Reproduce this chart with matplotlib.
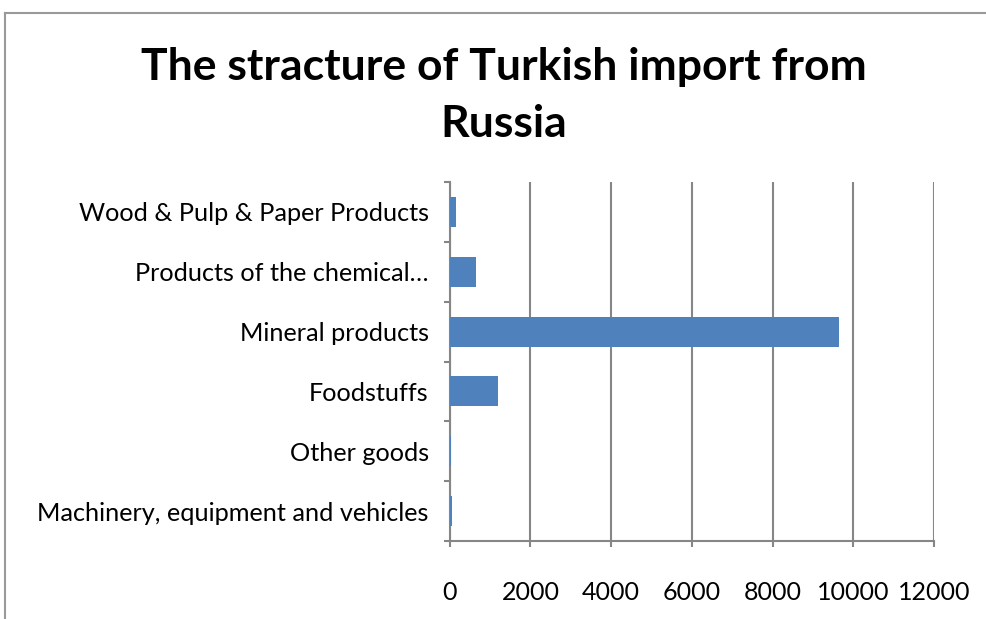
import matplotlib.pyplot as plt
from matplotlib.lines import Line2D
import numpy as np

# data, bottom to top as drawn
categories = ["Machinery, equipment and vehicles", "Other goods", "Foodstuffs",
              "Mineral products", "Products of the chemical\u2026",
              "Wood & Pulp & Paper Products"]
values = [55, 20, 1205, 9640, 645, 165]
xticks = [0, 2000, 4000, 6000, 8000, 10000, 12000]

plt.rcParams['font.family'] = ['Lato', 'DejaVu Sans']
grey = '#868686'

fig = plt.figure(figsize=(9.86, 6.19), dpi=100)
ax = fig.add_axes([449.7 / 986, 1 - 541 / 619, (934 - 449.7) / 986, (541 - 182) / 619])

y = np.arange(len(categories))
ax.barh(y, values, height=0.5, color='#4F81BD', zorder=3)

ax.set_xlim(0, 12000)
ax.set_ylim(-0.5, len(categories) - 0.5)
ax.set_xticks(xticks)
ax.set_xticklabels([str(t) for t in xticks], fontsize=18)
ax.set_yticks(y)
ax.set_yticklabels(categories, fontsize=18.2)
ax.set_yticks(np.arange(-0.5, len(categories)), minor=True)

ax.grid(axis='x', color=grey, linewidth=1.5, zorder=0)
for s in ['top', 'right']:
    ax.spines[s].set_visible(False)
for s in ['left', 'bottom']:
    ax.spines[s].set_color(grey)
    ax.spines[s].set_linewidth(1.5)

ax.tick_params(axis='y', which='major', length=0, pad=15)
ax.tick_params(axis='y', which='minor', length=4.5, width=1.5, color=grey)
ax.tick_params(axis='x', length=4.5, width=1.5, color=grey, pad=24)

fig.text(504 / 986, 1 - 80 / 619, "The stracture of Turkish import from",
         ha='center', va='baseline', fontsize=32, fontweight='bold')
fig.text(504 / 986, 1 - 137 / 619, "Russia",
         ha='center', va='baseline', fontsize=32, fontweight='bold')

# chart area border (cropped on right and bottom)
fig.add_artist(Line2D([5 / 986, 5 / 986], [0, 1 - 12.5 / 619], color='#999999', linewidth=1.5))
fig.add_artist(Line2D([5 / 986, 1.0], [1 - 12.5 / 619, 1 - 12.5 / 619], color='#999999', linewidth=1.5))

fig.savefig('out.png', dpi=100)
